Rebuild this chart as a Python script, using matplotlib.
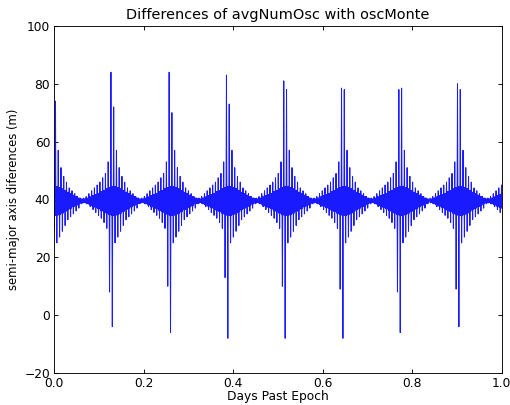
import numpy as np
import matplotlib
matplotlib.use("Agg")
import matplotlib.pyplot as plt

# burst centres (days)
burst_day = [-0.003, 0.127, 0.257, 0.385, 0.513, 0.642, 0.770, 0.901]
# per-burst extreme spikes (m)
main_hi = [80, 84, 84, 83, 81, 78.5, 78, 80]
main_lo = [30, -4, -6, -8, -8, -8, -6, -4]
second_hi = [74, 72, 70, 73, 78, 78, 78.5, 78]
second_lo = [28, 8, 10, 13, 10, 9, 8, 9]

# generic spike heights either side of a burst (slots -10..-2 and 2..10)
pre_hi = [40.5, 41, 42, 43, 44, 45, 46, 47.5, 49, 53]
post_hi = [57, 51, 48, 46, 44, 43, 42, 41, 40.5]
pre_lo = [39, 38.5, 37.5, 36.5, 35.5, 34.5, 33.5, 32, 30]
post_lo = [25, 27, 29, 31, 33, 34, 35, 36, 37, 38.5]
# half-width of the dense fill in each slot (-10..10)
fill_amp = [0.7, 1, 1.4, 1.8, 2.2, 2.6, 3.2, 3.6, 4.2, 4.6, 5,
            5, 4.6, 4.2, 3.6, 3, 2.5, 2, 1.5, 1, 0.7]
base = 39.5

period = np.mean(np.diff(burst_day))
dt = period / 21.0

t = []
y = []
centres = list(burst_day) + [burst_day[-1] + period]
for i, c in enumerate(centres):
    last = i == len(burst_day)
    for k in range(-10, 11):
        if last and k >= -1:
            break
        if k < 0:
            hi = pre_hi[k + 10]
        elif k == 0:
            hi = main_hi[i]
        elif k == 1:
            hi = second_hi[i]
        else:
            hi = post_hi[k - 2]
        if k < -1:
            lo = pre_lo[k + 10]
        elif k == -1:
            lo = second_lo[i]
        elif k == 0:
            lo = main_lo[i]
        else:
            lo = post_lo[k - 1]
        a = fill_amp[k + 10]
        t0 = c + k * dt
        t.append(t0); y.append(hi)
        for j in range(1, 3):
            t.append(t0 + j * dt / 6); y.append(base + a * (-1) ** j)
        t.append(t0 + dt / 2); y.append(lo)
        for j in range(1, 3):
            t.append(t0 + dt / 2 + j * dt / 6); y.append(base - a * (-1) ** j)

fig = plt.figure(figsize=(6.375, 5.0625), dpi=80)
ax = fig.add_axes([0.106, 0.079, 0.878, 0.857])
ax.plot(t, y, color='#1a1aff', lw=0.9)
ax.set_xlim(0, 1.0)
ax.set_ylim(-20, 100)
ax.set_xticks([0.0, 0.2, 0.4, 0.6, 0.8, 1.0])
ax.set_yticks([-20, 0, 20, 40, 60, 80, 100])
ax.tick_params(direction='in', top=True, right=True, length=4, labelsize=11)
ax.set_title('Differences of avgNumOsc with oscMonte', fontsize=13)
ax.set_xlabel('Days Past Epoch', fontsize=11, labelpad=0)
ax.set_ylabel('semi-major axis diferences (m)', fontsize=10.5)

fig.savefig('out.png', dpi=80)
